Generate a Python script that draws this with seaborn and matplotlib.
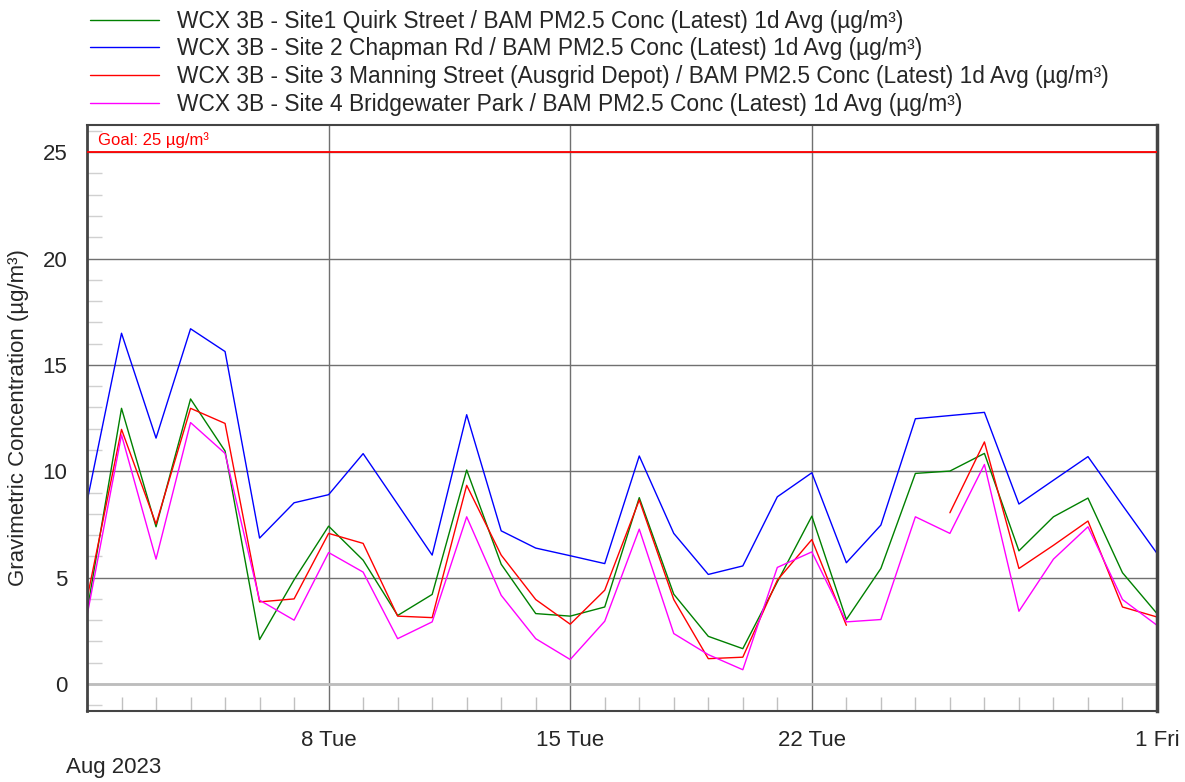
import pandas as pd
import numpy as np
import matplotlib
matplotlib.use('Agg')
import matplotlib.pyplot as plt
import matplotlib.dates as mdates
from matplotlib.lines import Line2D
from matplotlib.ticker import MultipleLocator, FixedLocator
import seaborn as sns

# --- datos (promedio diario PM2.5, ug/m3) ---
dates = pd.date_range('2023-08-01', '2023-09-01', freq='D')

site1 = [3.4, 12.96, 7.39, 13.40, 10.95, 2.09, 4.9, 7.42, 5.82, 3.22, 4.21,
         10.06, 5.63, 3.31, 3.19, 3.62, 8.76, 4.22, 2.24, 1.66, 4.80, 7.89,
         3.03, 5.43, 9.90, 10.01, 10.84, 6.26, 7.86, 8.74, 5.23, 3.31]
site2 = [8.57, 16.49, 11.56, 16.70, 15.63, 6.86, 8.52, 8.90, 10.83, 8.45, 6.06,
         12.66, 7.20, 6.39, 6.03, 5.66, 10.72, 7.08, 5.15, 5.55, 8.80, 9.93,
         5.70, 7.47, 12.47, 12.62, 12.77, 8.46, 9.58, 10.69, 8.40, 6.14]
site3 = [4.0, 11.97, 7.52, 12.96, 12.25, 3.86, 4.0, 7.08, 6.61, 3.19, 3.12,
         9.34, 6.06, 3.97, 2.81, 4.41, 8.65, 3.97, 1.19, 1.26, 4.88, 6.79,
         2.76, np.nan, np.nan, 8.05, 11.38, 5.43, 6.52, 7.66, 3.62, 3.15]
site4 = [3.2, 11.71, 5.87, 12.29, 10.84, 3.94, 3.0, 6.18, 5.26, 2.13, 2.92,
         7.86, 4.17, 2.13, 1.15, 2.95, 7.28, 2.37, 1.38, 0.67, 5.48, 6.21,
         2.92, 3.03, 7.86, 7.08, 10.32, 3.42, 5.87, 7.39, 3.97, 2.76]

labels = ['WCX 3B - Site1 Quirk Street / BAM PM2.5 Conc (Latest) 1d Avg (µg/m³)',
          'WCX 3B - Site 2 Chapman Rd / BAM PM2.5 Conc (Latest) 1d Avg (µg/m³)',
          'WCX 3B - Site 3 Manning Street (Ausgrid Depot) / BAM PM2.5 Conc (Latest) 1d Avg (µg/m³)',
          'WCX 3B - Site 4 Bridgewater Park / BAM PM2.5 Conc (Latest) 1d Avg (µg/m³)']
colors = ['#008000', '#0000ff', '#ff0000', '#ff00ff']
goal = 25

# formato largo, con "segmento" para cortar la linea donde faltan datos
frames = []
for lab, vals in zip(labels, [site1, site2, site3, site4]):
    d = pd.DataFrame({'date': dates, 'value': vals, 'site': lab})
    d['seg'] = d['value'].isna().cumsum()
    frames.append(d.dropna())
df = pd.concat(frames, ignore_index=True)
df['unit'] = df['site'] + '_' + df['seg'].astype(str)

sns.set_style('white')
plt.rcParams['font.family'] = ['Liberation Sans', 'DejaVu Sans']

fig = plt.figure(figsize=(11.85, 7.82), dpi=100)
ax = fig.add_axes([87/1185, 1 - 711/782, (1157-87)/1185, (711-125)/782])

sns.lineplot(data=df, x='date', y='value', hue='site', units='unit',
             estimator=None, palette=dict(zip(labels, colors)),
             hue_order=labels, linewidth=1.0, legend=False, ax=ax)

ax.axhline(goal, color='#ff0000', lw=1.3, zorder=3)
ax.text(0.01, 0.988, 'Goal: 25 µg/m³', transform=ax.transAxes, color='#ff0000',
        fontsize=12, va='top', ha='left')

ax.set_xlim(pd.Timestamp('2023-08-01'), pd.Timestamp('2023-09-01'))
ax.set_ylim(-1.27, 26.28)

# ejes y rejilla
ax.yaxis.set_major_locator(MultipleLocator(5))
ax.yaxis.set_minor_locator(MultipleLocator(1))
ax.xaxis.set_major_locator(FixedLocator(mdates.date2num(
    pd.to_datetime(['2023-08-08', '2023-08-15', '2023-08-22', '2023-09-01']))))
ax.xaxis.set_major_formatter(mdates.DateFormatter('%-d %a'))
ax.xaxis.set_minor_locator(mdates.DayLocator())

ax.grid(True, which='major', color='#707070', lw=1.0)
ax.axhline(0, color='#bdbdbd', lw=2.0, zorder=1)
ax.set_axisbelow(True)

ax.tick_params(axis='y', which='major', direction='out', length=5, width=1,
               color='#333333', labelsize=16, pad=9)
ax.tick_params(axis='y', which='minor', direction='in', length=11, width=1,
               color='#d0d0d0', left=True)
ax.tick_params(axis='x', which='major', direction='inout', length=32, width=1,
               color='#909090', labelsize=16, pad=-2)
ax.tick_params(axis='x', which='minor', direction='in', length=10, width=1,
               color='#c0c0c0', bottom=True)

for s in ax.spines.values():
    s.set_color('#444444')
    s.set_linewidth(1.5)
ax.spines['left'].set_linewidth(2)
ax.spines['right'].set_linewidth(2.5)

ax.set_xlabel('')
ax.set_ylabel('Gravimetric Concentration (µg/m³)', fontsize=16, labelpad=10)

fig.text(66/1185, 1 - 768/782, 'Aug 2023', fontsize=16, va='center', ha='left')

handles = [Line2D([], [], color=c, lw=1.0) for c in colors]
fig.legend(handles, labels, loc='upper left', bbox_to_anchor=(77/1185, 1 + 3/782),
           frameon=False, fontsize=16.4, handlelength=3.05, handletextpad=0.8,
           labelspacing=0.21, borderaxespad=0.15)

fig.savefig('out.png', dpi=100)
